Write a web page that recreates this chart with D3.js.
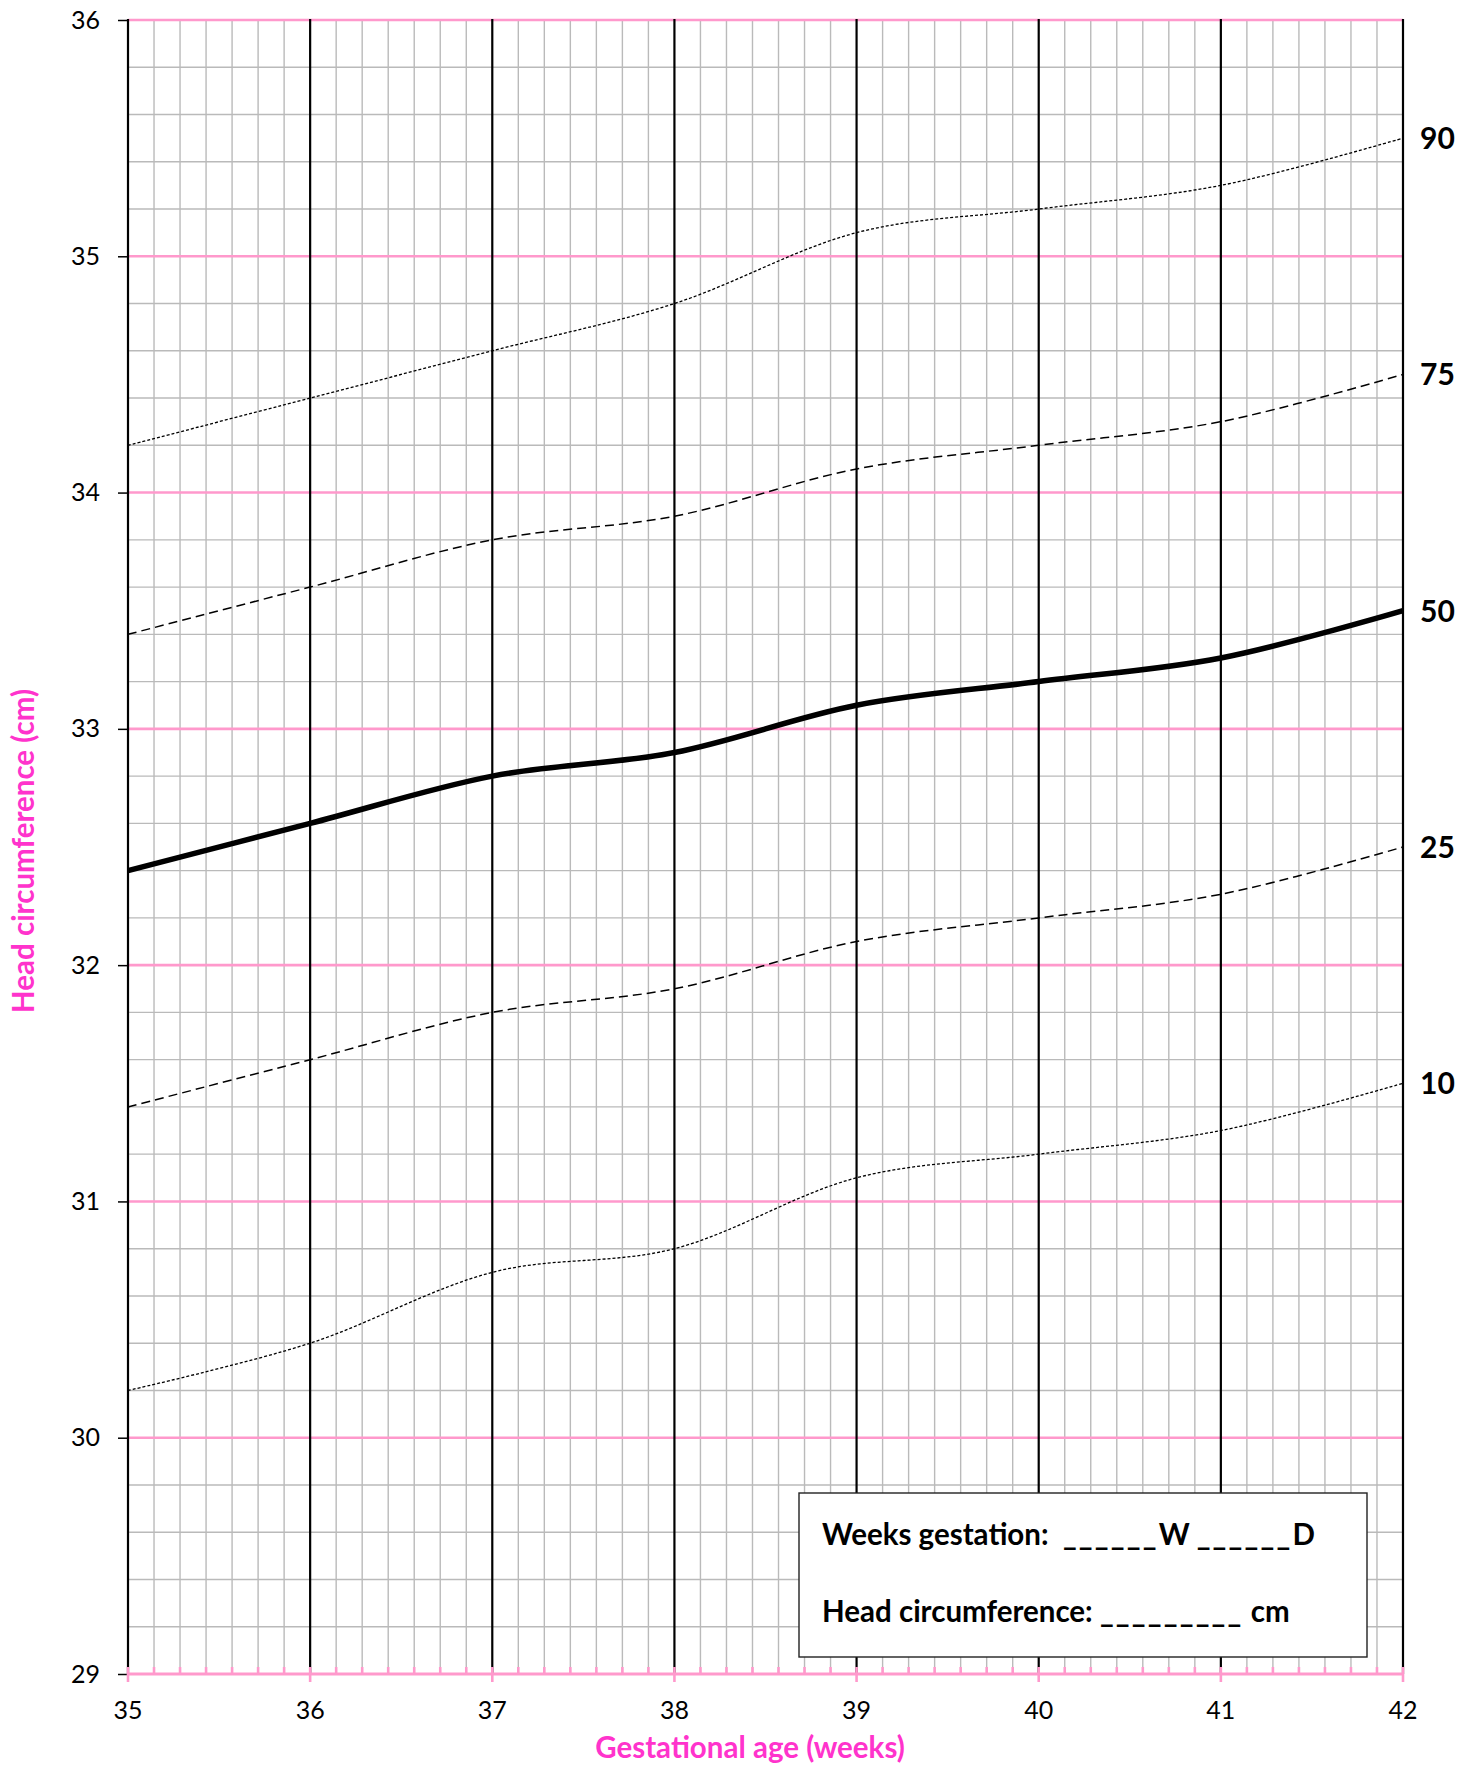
<!DOCTYPE html>
<html>
<head>
<meta charset="utf-8">
<script src="https://cdn.jsdelivr.net/npm/d3@7"></script>
<style>
  body { margin: 0; background: #fff; }
  text { font-family: Lato, "Open Sans", sans-serif; }
</style>
</head>
<body>
<svg id="chart"></svg>
<script>
    // weeks of gestation and the head circumference percentiles (cm)
    var weeks = [35, 36, 37, 38, 39, 40, 41, 42];
    var p90 = [34.2, 34.4, 34.6, 34.8, 35.1, 35.2, 35.3, 35.5];
    var p75 = [33.4, 33.6, 33.8, 33.9, 34.1, 34.2, 34.3, 34.5];
    var p50 = [32.4, 32.6, 32.8, 32.9, 33.1, 33.2, 33.3, 33.5];
    var p25 = [31.4, 31.6, 31.8, 31.9, 32.1, 32.2, 32.3, 32.5];
    var p10 = [30.2, 30.4, 30.7, 30.8, 31.1, 31.2, 31.3, 31.5];
    var seriesNames = ['90', '75', '50', '25', '10'];
    var yTicks = [29, 30, 31, 32, 33, 34, 35, 36];
    var xTicks = [35, 36, 37, 38, 39, 40, 41, 42];
    var xTitle = 'Gestational age (weeks)';
    var yTitle = 'Head circumference (cm)';
    var boxLines = ['Weeks gestation:  ______W ______D', 'Head circumference: _________ cm'];

    var width = 1472;
    var height = 1767;
    var margin = {top: 20, right: 69, bottom: 93, left: 128};
    var pink = '#ff99cc';
    var grey = '#bababa';

    var chart = d3.select('#chart')
        .attr('width', width)
        .attr('height', height);

    var x = d3.scaleLinear().domain([35, 42]).range([margin.left, width - margin.right]);
    var y = d3.scaleLinear().domain([29, 36]).range([height - margin.bottom, margin.top]);

    // -----------------------------------
    // minor grid: days and 2 mm
    var days = d3.range(35 * 7, 42 * 7 + 1).map(function(d){ return d / 7; })
        .filter(function(d){ return Math.abs(d - Math.round(d)) > 1e-6; });
    var mm = d3.range(290, 361, 2).map(function(d){ return d / 10; })
        .filter(function(d){ return Math.abs(d - Math.round(d)) > 1e-6; });

    var grid = chart.append('g');
    grid.selectAll('.vminor').data(days).enter().append('line')
        .attr('x1', function(d){ return x(d); }).attr('x2', function(d){ return x(d); })
        .attr('y1', y(36)).attr('y2', y(29))
        .attr('stroke', grey).attr('stroke-width', 1.4);
    grid.selectAll('.hminor').data(mm).enter().append('line')
        .attr('x1', x(35)).attr('x2', x(42))
        .attr('y1', function(d){ return y(d); }).attr('y2', function(d){ return y(d); })
        .attr('stroke', grey).attr('stroke-width', 1.4);
    // pink cm lines
    grid.selectAll('.hmajor').data(yTicks.slice(1)).enter().append('line')
        .attr('x1', x(35)).attr('x2', x(42))
        .attr('y1', function(d){ return y(d); }).attr('y2', function(d){ return y(d); })
        .attr('stroke', pink).attr('stroke-width', 2.6);
    // black week lines
    grid.selectAll('.vmajor').data(xTicks).enter().append('line')
        .attr('x1', function(d){ return x(d); }).attr('x2', function(d){ return x(d); })
        .attr('y1', y(36) - 1).attr('y2', y(29))
        .attr('stroke', '#000').attr('stroke-width', 2.2);

    // -----------------------------------
    // y axis on the left
    var yAxis = d3.axisLeft(y).tickValues(yTicks).tickSize(10).tickPadding(18)
        .tickFormat(d3.format('d'));
    var axisY = chart.append('g')
        .attr('transform', 'translate(' + margin.left + ',0)')
        .call(yAxis);
    axisY.select('.domain').remove();
    axisY.selectAll('line').attr('stroke', '#000').attr('stroke-width', 1.5);
    axisY.selectAll('text').attr('font-size', 25).attr('fill', '#000')
        .style('font-family', 'Lato, sans-serif');

    // x axis, pink, with day ticks inside
    var axisX = chart.append('g').attr('transform', 'translate(0,' + y(29) + ')');
    axisX.selectAll('.dtick').data(days).enter().append('line')
        .attr('x1', function(d){ return x(d); }).attr('x2', function(d){ return x(d); })
        .attr('y1', -7).attr('y2', 0)
        .attr('stroke', pink).attr('stroke-width', 2.6);
    axisX.selectAll('.wtick').data(xTicks).enter().append('line')
        .attr('x1', function(d){ return x(d); }).attr('x2', function(d){ return x(d); })
        .attr('y1', -7).attr('y2', 8)
        .attr('stroke', pink).attr('stroke-width', 2.6);
    axisX.append('line')
        .attr('x1', x(35)).attr('x2', x(42))
        .attr('stroke', pink).attr('stroke-width', 3);
    axisX.selectAll('.wlabel').data(xTicks).enter().append('text')
        .attr('x', function(d){ return x(d); }).attr('y', 45)
        .attr('text-anchor', 'middle').attr('font-size', 25)
        .text(function(d){ return d; });

    // -----------------------------------
    // percentile curves
    var line = d3.line()
        .x(function(d, i){ return x(weeks[i]); })
        .y(function(d){ return y(d); })
        .curve(d3.curveCatmullRom.alpha(0));

    var series = [p90, p75, p50, p25, p10];
    var styles = [
        {w: 1.3, dash: '3,2'},
        {w: 1.5, dash: '9,5'},
        {w: 5.5, dash: null},
        {w: 1.5, dash: '9,5'},
        {w: 1.3, dash: '3,2'}
    ];
    chart.append('g').selectAll('path').data(series).enter().append('path')
        .attr('d', line)
        .attr('fill', 'none')
        .attr('stroke', '#000')
        .attr('stroke-width', function(d, i){ return styles[i].w; })
        .attr('stroke-dasharray', function(d, i){ return styles[i].dash; });

    chart.append('g').selectAll('text').data(series).enter().append('text')
        .attr('x', x(42) + 17)
        .attr('y', function(d){ return y(d[d.length - 1]); })
        .attr('dy', '0.36em')
        .attr('font-size', 30).attr('font-weight', 'bold')
        .text(function(d, i){ return seriesNames[i]; });

    // -----------------------------------
    // axis titles
    chart.append('text')
        .attr('x', 750).attr('y', 1758)
        .attr('text-anchor', 'middle').attr('font-size', 29.5).attr('font-weight', 'bold')
        .attr('fill', '#ff33cc')
        .text(xTitle);
    chart.append('text')
        .attr('transform', 'translate(34,' + 851 + ') rotate(-90)')
        .attr('text-anchor', 'middle').attr('font-size', 29.5).attr('font-weight', 'bold')
        .attr('fill', '#ff33cc')
        .text(yTitle);

    // -----------------------------------
    // box to fill in
    var box = chart.append('g');
    box.append('rect')
        .attr('x', 799).attr('y', 1493).attr('width', 568).attr('height', 164)
        .attr('fill', '#fff').attr('stroke', '#222').attr('stroke-width', 1.4);
    var rows = box.selectAll('text').data(boxLines).enter().append('text')
        .attr('x', 822)
        .attr('y', function(d, i){ return 1545 + i * 77; })
        .attr('font-size', 29.5).attr('font-weight', 'bold')
        .attr('xml:space', 'preserve')
        .style('white-space', 'pre');
    // blanks to fill in are a bit wider than the font's underscore
    rows.selectAll('tspan')
        .data(function(d){ return d.split(/(_+)/).filter(function(s){ return s.length; }); })
        .enter().append('tspan')
        .attr('letter-spacing', function(s){ return s[0] === '_' ? 2.2 : null; })
        .text(function(s){ return s; });
</script>
</body>
</html>
